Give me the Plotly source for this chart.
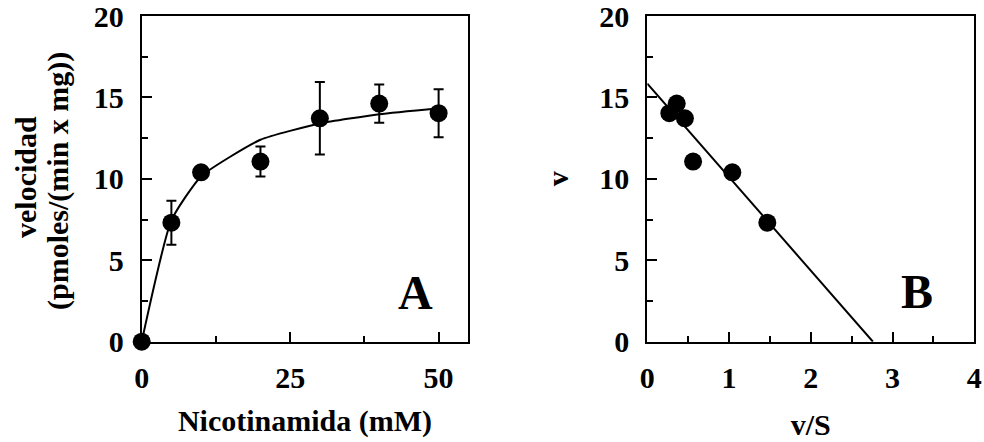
import plotly.graph_objects as go

# Panel A data: Nicotinamida (mM) vs velocidad
conc = [0, 5, 10, 20, 30, 40, 50]
vel = [0, 7.31, 10.4, 11.06, 13.72, 14.62, 14.03]
vel_err = [0, 1.35, 0.3, 0.92, 2.23, 1.18, 1.47]
# fitted curve
fit_conc = [0, 5, 10, 20, 30, 40, 50]
fit_vel = [0, 7.45, 10.15, 12.4, 13.4, 13.97, 14.34]

# Panel B data: v/S vs v (Eadie-Hofstee)
vs = [1.468, 1.04, 0.56, 0.46, 0.36, 0.27]
v = [7.31, 10.4, 11.06, 13.72, 14.62, 14.03]
line_vs = [0, 2.76]
line_v = [15.85, 0]

FONT = "Liberation Serif"
BLACK = "#000000"

fig = go.Figure()

fig.add_trace(go.Scatter(x=fit_conc, y=fit_vel, mode="lines",
                         line=dict(color=BLACK, width=2, shape="spline", smoothing=0.5),
                         xaxis="x", yaxis="y", showlegend=False, hoverinfo="skip"))
fig.add_trace(go.Scatter(x=conc, y=vel, mode="markers",
                         marker=dict(color=BLACK, size=18),
                         error_y=dict(type="data", array=vel_err, visible=True,
                                      color=BLACK, thickness=2, width=5),
                         cliponaxis=False,
                         xaxis="x", yaxis="y", showlegend=False))

fig.add_trace(go.Scatter(x=line_vs, y=line_v, mode="lines",
                         line=dict(color=BLACK, width=2),
                         xaxis="x2", yaxis="y2", showlegend=False, hoverinfo="skip"))
fig.add_trace(go.Scatter(x=vs, y=v, mode="markers",
                         marker=dict(color=BLACK, size=18),
                         cliponaxis=False,
                         xaxis="x2", yaxis="y2", showlegend=False))

tickfont = dict(family=FONT, size=30, color=BLACK, weight="bold")
titlefont = dict(family=FONT, size=30, color=BLACK, weight="bold")

common = dict(showline=True, linewidth=2, linecolor=BLACK, mirror=True,
              showgrid=False, zeroline=False, ticks="inside", ticklen=10,
              tickwidth=2, tickcolor=BLACK, tickfont=tickfont, automargin=False,
              ticklabeloverflow="allow")

ytop = 1 - 16 / 442
ybot = 1 - 341.7 / 442
ymid = (ytop + ybot) / 2

fig.update_layout(
    width=984, height=442,
    margin=dict(l=0, r=0, t=0, b=0),
    paper_bgcolor="white", plot_bgcolor="white",
    xaxis=dict(domain=[141.7 / 984, 468.3 / 984], range=[0, 55],
               tickvals=[0, 25, 50], ticklabelstandoff=8,
               minor=dict(ticks="inside", ticklen=6, tickwidth=2, tickcolor=BLACK,
                          tickvals=[12.5, 37.5]),
               title=dict(text="Nicotinamida (mM)", font=titlefont, standoff=17),
               anchor="y", **common),
    yaxis=dict(domain=[ybot, ytop], range=[0, 20],
               tickvals=[0, 5, 10, 15, 20], ticklabelstandoff=10,
               minor=dict(ticks="inside", ticklen=6, tickwidth=2, tickcolor=BLACK,
                          tickvals=[2.5, 7.5, 12.5, 17.5]),
               anchor="x", **common),
    xaxis2=dict(domain=[647.3 / 984, 974.3 / 984], range=[0, 4],
                tickvals=[0, 1, 2, 3, 4], ticklabelstandoff=8,
                minor=dict(ticks="inside", ticklen=6, tickwidth=2, tickcolor=BLACK,
                           tickvals=[0.5, 1.5, 2.5, 3.5]),
                title=dict(text="v/S", font=titlefont, standoff=21),
                anchor="y2", **common),
    yaxis2=dict(domain=[ybot, ytop], range=[0, 20],
                tickvals=[0, 5, 10, 15, 20], ticklabelstandoff=10,
                minor=dict(ticks="inside", ticklen=6, tickwidth=2, tickcolor=BLACK,
                           tickvals=[2.5, 7.5, 12.5, 17.5]),
                title=dict(text="v", font=titlefont, standoff=22),
                anchor="x2", **common),
    annotations=[
        dict(text="velocidad", x=25 / 984, y=1 - 177 / 442, xref="paper", yref="paper",
             textangle=-90, showarrow=False, xanchor="center", yanchor="middle",
             font=titlefont),
        dict(text="(pmoles/(min x mg))", x=58 / 984, y=1 - 181 / 442, xref="paper", yref="paper",
             textangle=-90, showarrow=False, xanchor="center", yanchor="middle",
             font=titlefont),
        dict(text="A", x=46.1, y=3.0, xref="x", yref="y", showarrow=False,
             font=dict(family=FONT, size=48, color=BLACK, weight="bold")),
        dict(text="B", x=3.3, y=3.1, xref="x2", yref="y2", showarrow=False,
             font=dict(family=FONT, size=48, color=BLACK, weight="bold")),
    ],
)

fig.write_html("out.html")
